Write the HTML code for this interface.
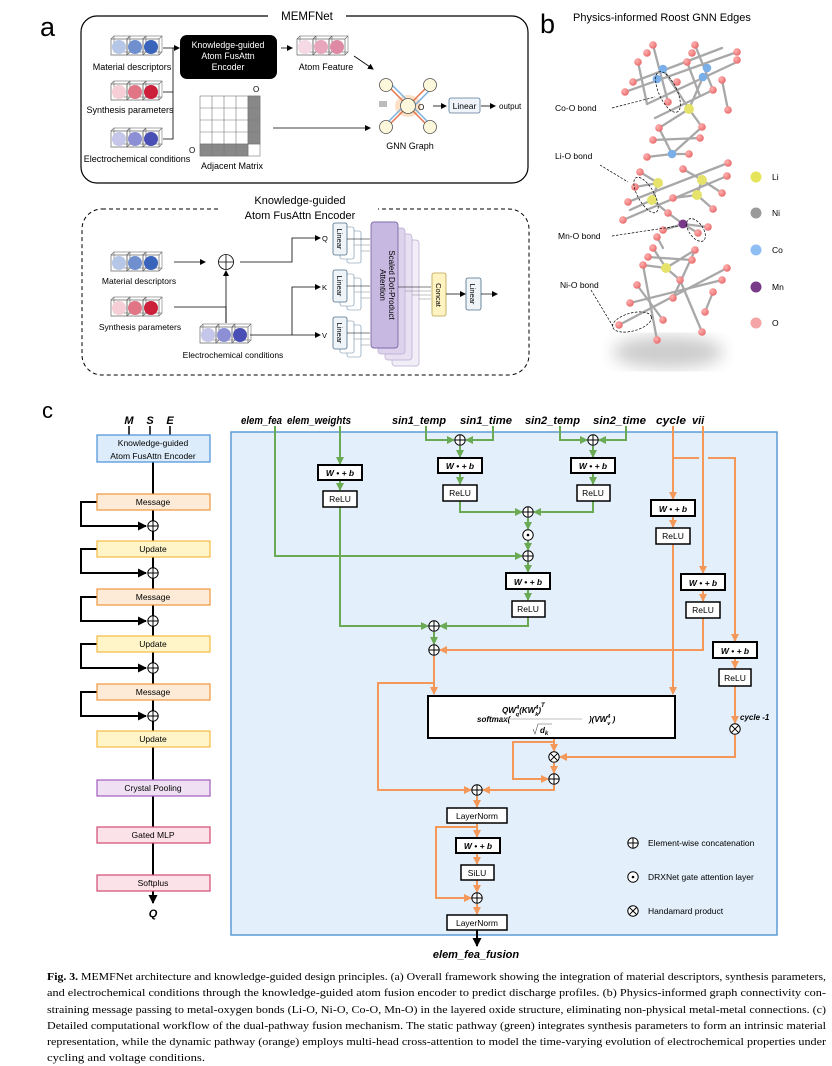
<!DOCTYPE html>
<html><head><meta charset="utf-8"><style>
html,body{margin:0;padding:0;background:#fff}
svg{display:block}
text{font-family:"Liberation Sans",Arial,sans-serif}
.bi{font-weight:bold;font-style:italic}
.cap text{font-family:"Liberation Serif",serif;font-size:10.6px}
</style></head><body>
<svg width="832" height="1066" viewBox="0 0 832 1066" xmlns="http://www.w3.org/2000/svg">
<defs>
<marker id="ab" markerWidth="6" markerHeight="6" refX="5" refY="3" orient="auto" markerUnits="userSpaceOnUse"><path d="M0,0 L6,3 L0,6 z" fill="#000"/></marker>
<marker id="ag" markerWidth="8" markerHeight="8" refX="7" refY="4" orient="auto" markerUnits="userSpaceOnUse"><path d="M0,0 L8,4 L0,8 z" fill="#6aaa55"/></marker>
<marker id="ao" markerWidth="8" markerHeight="8" refX="7" refY="4" orient="auto" markerUnits="userSpaceOnUse"><path d="M0,0 L8,4 L0,8 z" fill="#f4985a"/></marker>
<marker id="ak" markerWidth="9" markerHeight="9" refX="8" refY="4.5" orient="auto" markerUnits="userSpaceOnUse"><path d="M0,0 L9,4.5 L0,9 z" fill="#000"/></marker>
<symbol id="op" viewBox="-6 -6 12 12"><circle r="5.2" fill="#fff" stroke="#000" stroke-width="1"/><path d="M-5.2,0H5.2M0,-5.2V5.2" stroke="#000" stroke-width="1"/></symbol>
<symbol id="od" viewBox="-6 -6 12 12"><circle r="5.2" fill="#fff" stroke="#000" stroke-width="1"/><circle r="1.3" fill="#000"/></symbol>
<symbol id="ox" viewBox="-6 -6 12 12"><circle r="5.2" fill="#fff" stroke="#000" stroke-width="1"/><path d="M-3.7,-3.7L3.7,3.7M3.7,-3.7L-3.7,3.7" stroke="#000" stroke-width="1"/></symbol>
<g id="cube"><path d="M3,-3h16v16h-16z" fill="#fff" stroke="#888" stroke-width=".7"/><path d="M0,0h16v16h-16z M0,0 l3,-3 M16,0 l3,-3 M16,16 l3,-3" fill="none" stroke="#666" stroke-width=".7"/></g>
<radialGradient id="gO" cx=".35" cy=".35" r=".7"><stop offset="0" stop-color="#ffb0b0"/><stop offset="1" stop-color="#e86a6a"/></radialGradient>
<filter id="blur"><feGaussianBlur stdDeviation="8"/></filter>
</defs>

<!-- ================= Panel a ================= -->
<text x="40" y="36" font-size="27">a</text>
<rect x="81" y="16" width="447" height="167" rx="16" fill="none" stroke="#000" stroke-width="1.2"/>
<rect x="268" y="8" width="78" height="14" fill="#fff"/>
<text x="307" y="20" font-size="11.5" text-anchor="middle">MEMFNet</text>

<g transform="translate(111,39)">
<use href="#cube"/><circle cx="8" cy="8" r="7" fill="#b5c6e6"/>
<use href="#cube" x="16"/><circle cx="24" cy="8" r="7" fill="#6f8fcf"/>
<use href="#cube" x="32"/><circle cx="40" cy="8" r="7" fill="#3a64bb"/>
</g>
<text x="132" y="70" font-size="9" text-anchor="middle">Material descriptors</text>
<g transform="translate(111,84)">
<use href="#cube"/><circle cx="8" cy="8" r="7" fill="#f6cfd6"/>
<use href="#cube" x="16"/><circle cx="24" cy="8" r="7" fill="#e07585"/>
<use href="#cube" x="32"/><circle cx="40" cy="8" r="7" fill="#cc1f3a"/>
</g>
<text x="130" y="113" font-size="9" text-anchor="middle">Synthesis parameters</text>
<g transform="translate(111,131)">
<use href="#cube"/><circle cx="8" cy="8" r="7" fill="#c4c6ea"/>
<use href="#cube" x="16"/><circle cx="24" cy="8" r="7" fill="#8c8fd4"/>
<use href="#cube" x="32"/><circle cx="40" cy="8" r="7" fill="#4a4fb5"/>
</g>
<text x="137" y="162" font-size="9" text-anchor="middle">Electrochemical conditions</text>
<path d="M163,48H173V139H163 M163,92H173" fill="none" stroke="#000" stroke-width=".8"/>
<path d="M173,48H179" stroke="#000" stroke-width=".8" marker-end="url(#ab)"/>
<rect x="180" y="35" width="97" height="44" rx="7" fill="#000"/>
<text x="228" y="48" font-size="8.8" fill="#fff" text-anchor="middle">Knowledge-guided</text>
<text x="228" y="59" font-size="8.8" fill="#fff" text-anchor="middle">Atom FusAttn</text>
<text x="228" y="70" font-size="8.8" fill="#fff" text-anchor="middle">Encoder</text>
<path d="M281,48H292" stroke="#000" stroke-width=".8" marker-end="url(#ab)"/>
<g transform="translate(297,39)">
<use href="#cube"/><circle cx="8" cy="8" r="7" fill="#f5d9e4"/>
<use href="#cube" x="16"/><circle cx="24" cy="8" r="7" fill="#e8a6bd"/>
<use href="#cube" x="32"/><circle cx="40" cy="8" r="7" fill="#de8aa4"/>
</g>
<text x="326" y="70" font-size="9" text-anchor="middle">Atom Feature</text>
<path d="M354,56L373,69" stroke="#000" stroke-width=".8" marker-end="url(#ab)"/>
<g stroke="#777" stroke-width=".6">
<rect x="200" y="96" width="60" height="60" fill="#fff"/>
<rect x="248" y="96" width="12" height="48" fill="#888"/>
<rect x="200" y="144" width="48" height="12" fill="#888"/>
<path d="M212,96V156M224,96V156M236,96V156M248,96V156M200,108H260M200,120H260M200,132H260M200,144H260" fill="none"/>
</g>
<text x="253" y="92" font-size="8">O</text>
<text x="189" y="153" font-size="8">O</text>
<text x="232" y="169" font-size="9" text-anchor="middle">Adjacent Matrix</text>
<path d="M273,128H370" stroke="#000" stroke-width=".8" marker-end="url(#ab)"/>
<ellipse cx="408" cy="106" rx="13" ry="11" fill="#fbd9b8" opacity=".8"/>
<g stroke-width="1.5">
<path d="M387,85L408,106M429,85L408,106M387,127L408,106M429,127L408,106" stroke="#e8734a"/>
<path d="M390,83L411,104M432,88L411,109M385,125L406,104M431,125L410,104" stroke="#7ab0e0"/>
</g>
<g fill="#fdf8dc" stroke="#555" stroke-width=".8">
<circle cx="386" cy="85" r="6.5"/><circle cx="430" cy="85" r="6.5"/><circle cx="386" cy="127" r="6.5"/><circle cx="430" cy="127" r="6.5"/><circle cx="408" cy="106" r="7.5"/>
</g>
<rect x="379" y="101" width="8" height="6" fill="#bbb"/>
<text x="418" y="110" font-size="8">O</text>
<path d="M433,106H446" stroke="#000" stroke-width=".8" marker-end="url(#ab)"/>
<rect x="449" y="98" width="31" height="15" rx="2" fill="#eef4f9" stroke="#5b7a95" stroke-width=".8"/>
<text x="464.5" y="109" font-size="8.5" text-anchor="middle">Linear</text>
<path d="M481,106H495" stroke="#000" stroke-width=".8" marker-end="url(#ab)"/>
<text x="499" y="109" font-size="8">output</text>
<text x="410" y="149" font-size="9" text-anchor="middle">GNN Graph</text>

<!-- ================= Panel a2 ================= -->
<rect x="82" y="209" width="447" height="166" rx="20" fill="none" stroke="#000" stroke-width="1" stroke-dasharray="4,3"/>
<rect x="219" y="200" width="159" height="18" fill="#fff"/>
<text x="300" y="204" font-size="11" text-anchor="middle">Knowledge-guided</text>
<text x="300" y="219" font-size="11" text-anchor="middle">Atom FusAttn Encoder</text>
<g transform="translate(111,255)">
<use href="#cube"/><circle cx="8" cy="8" r="7" fill="#b5c6e6"/>
<use href="#cube" x="16"/><circle cx="24" cy="8" r="7" fill="#6f8fcf"/>
<use href="#cube" x="32"/><circle cx="40" cy="8" r="7" fill="#3a64bb"/>
</g>
<text x="139" y="284" font-size="8.5" text-anchor="middle">Material descriptors</text>
<g transform="translate(111,300)">
<use href="#cube"/><circle cx="8" cy="8" r="7" fill="#f6cfd6"/>
<use href="#cube" x="16"/><circle cx="24" cy="8" r="7" fill="#e07585"/>
<use href="#cube" x="32"/><circle cx="40" cy="8" r="7" fill="#cc1f3a"/>
</g>
<text x="140" y="330" font-size="8.5" text-anchor="middle">Synthesis parameters</text>
<g transform="translate(200,327)">
<use href="#cube"/><circle cx="8" cy="8" r="7" fill="#c4c6ea"/>
<use href="#cube" x="16"/><circle cx="24" cy="8" r="7" fill="#8c8fd4"/>
<use href="#cube" x="32"/><circle cx="40" cy="8" r="7" fill="#4a4fb5"/>
</g>
<text x="233" y="358" font-size="8.5" text-anchor="middle">Electrochemical conditions</text>
<path d="M174,262H205" stroke="#000" stroke-width=".8" marker-end="url(#ab)"/>
<circle cx="226" cy="262" r="7.5" fill="#fff" stroke="#000" stroke-width=".8"/>
<path d="M218.5,262H233.5M226,254.5V269.5" stroke="#000" stroke-width=".8"/>
<path d="M174,307H226V323" fill="none" stroke="#000" stroke-width=".8"/>
<path d="M226,323V271" stroke="#000" stroke-width=".8" marker-end="url(#ab)"/>
<path d="M240,262H292V238H320" fill="none" stroke="#000" stroke-width=".8" marker-end="url(#ab)"/>
<path d="M250,335H320" fill="none" stroke="#000" stroke-width=".8" marker-end="url(#ab)"/>
<path d="M292,335V287H320" fill="none" stroke="#000" stroke-width=".8" marker-end="url(#ab)"/>
<text x="322" y="241" font-size="7.5">Q</text>
<text x="322" y="290" font-size="7.5">K</text>
<text x="322" y="338" font-size="7.5">V</text>
<g fill="#fff" stroke="#6a8aa5" stroke-width=".6">
<rect x="347" y="231" width="14" height="32" rx="2"/><rect x="340" y="227" width="14" height="32" rx="2"/>
<rect x="347" y="278" width="14" height="32" rx="2"/><rect x="340" y="274" width="14" height="32" rx="2"/>
<rect x="347" y="325" width="14" height="32" rx="2"/><rect x="340" y="321" width="14" height="32" rx="2"/>
</g>
<g fill="#eef4f8" stroke="#4d6d88" stroke-width=".8">
<rect x="333" y="223" width="14" height="32" rx="2"/>
<rect x="333" y="270" width="14" height="32" rx="2"/>
<rect x="333" y="317" width="14" height="32" rx="2"/>
</g>
<g font-size="7.5" text-anchor="middle">
<text transform="translate(337,239) rotate(90)">Linear</text>
<text transform="translate(337,286) rotate(90)">Linear</text>
<text transform="translate(337,333) rotate(90)">Linear</text>
</g>
<g stroke="#000" stroke-width=".6">
<path d="M347,239H370M347,286H370M347,333H370"/>
<path d="M354,245H370M361,251H370M354,292H370M361,298H370M354,339H370M361,345H370" stroke="#888"/>
</g>
<g stroke="#b7abd0" stroke-width=".7">
<rect x="392" y="240" width="27" height="126" rx="3" fill="#f2eef8"/>
<rect x="385" y="234" width="27" height="126" rx="3" fill="#e8e1f2"/>
<rect x="378" y="228" width="27" height="126" rx="3" fill="#ddd3ec"/>
</g>
<rect x="371" y="222" width="27" height="126" rx="3" fill="#c6b8e0" stroke="#7c6aa8" stroke-width=".9"/>
<text transform="translate(389,285) rotate(90)" font-size="8" text-anchor="middle">Scaled Dot-Product</text>
<text transform="translate(380,285) rotate(90)" font-size="8" text-anchor="middle">Attention</text>
<g stroke="#000" stroke-width=".6">
<path d="M398,287H431"/><path d="M405,291H431M412,295H431M419,299H431" stroke="#888"/>
</g>
<rect x="432" y="273" width="14" height="43" rx="2" fill="#fff3c2" stroke="#b8a04f" stroke-width=".8"/>
<text transform="translate(436,295) rotate(90)" font-size="7.5" text-anchor="middle">Concat</text>
<path d="M446,294H465" stroke="#000" stroke-width=".7" marker-end="url(#ab)"/>
<rect x="466" y="278" width="15" height="32" rx="2" fill="#eef4f8" stroke="#4d6d88" stroke-width=".8"/>
<text transform="translate(470,294) rotate(90)" font-size="7.5" text-anchor="middle">Linear</text>
<path d="M481,294H497" stroke="#000" stroke-width=".7" marker-end="url(#ab)"/>

<!-- ================= Panel b ================= -->
<text x="540" y="33" font-size="27">b</text>
<text x="573" y="21" font-size="11">Physics-informed Roost GNN Edges</text>
<ellipse cx="668" cy="352" rx="55" ry="16" fill="#ccc" filter="url(#blur)"/>
<g stroke="#a8a8a8" stroke-width="2.3" stroke-linecap="round" fill="none">
<path d="M625,92L737,52M633,82L722,48M647,104L737,62M655,118L713,90"/>
<path d="M653,45L668,102M695,45L713,90M638,62L647,104M687,62L700,96M722,80L728,110"/>
<path d="M663,69L689,109M703,77L689,109M689,109L659,128M689,109L702,127"/>
<path d="M659,128L672,154M672,154L702,127M653,140L700,138M672,154L647,157M672,154L689,154"/>
<path d="M628,202L728,163M623,220L727,176M640,172L658,183M658,183L652,200M652,200L668,213M683,169L702,180M702,180L697,195M697,195L713,209"/>
<path d="M635,187L658,183M702,180L722,193M652,200L630,210M697,195L673,198"/>
<path d="M683,224L663,230M683,224L708,227M683,224L698,233M683,224L668,213M657,237L663,248"/>
<path d="M653,248L666,268M666,268L695,250M648,257L692,260M666,268L643,265M666,268L680,280"/>
<path d="M619,325L727,268M630,303L722,280M637,285L663,320M680,280L702,332M643,265L657,340M705,312L713,292M673,298L695,250"/>
</g>
<g fill="url(#gO)">
<circle cx="653" cy="45" r="3.8"/><circle cx="695" cy="45" r="3.8"/><circle cx="647" cy="53" r="3.8"/><circle cx="692" cy="53" r="3.8"/><circle cx="737" cy="52" r="3.8"/><circle cx="737" cy="60" r="3.8"/><circle cx="638" cy="62" r="3.8"/><circle cx="687" cy="62" r="3.8"/><circle cx="633" cy="82" r="3.8"/><circle cx="677" cy="82" r="3.8"/><circle cx="722" cy="80" r="3.8"/><circle cx="625" cy="92" r="3.8"/><circle cx="668" cy="102" r="3.8"/><circle cx="713" cy="90" r="3.8"/><circle cx="728" cy="110" r="3.8"/>
<circle cx="659" cy="128" r="3.8"/><circle cx="702" cy="127" r="3.8"/><circle cx="653" cy="140" r="3.8"/><circle cx="700" cy="138" r="3.8"/><circle cx="647" cy="157" r="3.8"/><circle cx="689" cy="154" r="3.8"/><circle cx="728" cy="163" r="3.8"/><circle cx="640" cy="172" r="3.8"/><circle cx="683" cy="169" r="3.8"/><circle cx="727" cy="176" r="3.8"/><circle cx="635" cy="187" r="3.8"/><circle cx="628" cy="202" r="3.8"/><circle cx="623" cy="220" r="3.8"/><circle cx="668" cy="213" r="3.8"/><circle cx="713" cy="209" r="3.8"/><circle cx="722" cy="193" r="3.8"/><circle cx="673" cy="198" r="3.8"/><circle cx="708" cy="227" r="3.8"/><circle cx="663" cy="230" r="3.8"/><circle cx="657" cy="237" r="3.8"/><circle cx="698" cy="233" r="3.8"/>
<circle cx="653" cy="248" r="3.8"/><circle cx="695" cy="250" r="3.8"/><circle cx="648" cy="257" r="3.8"/><circle cx="692" cy="260" r="3.8"/><circle cx="643" cy="265" r="3.8"/><circle cx="727" cy="268" r="3.8"/><circle cx="637" cy="285" r="3.8"/><circle cx="680" cy="280" r="3.8"/><circle cx="722" cy="280" r="3.8"/><circle cx="630" cy="303" r="3.8"/><circle cx="673" cy="298" r="3.8"/><circle cx="713" cy="292" r="3.8"/><circle cx="619" cy="325" r="3.8"/><circle cx="663" cy="320" r="3.8"/><circle cx="705" cy="312" r="3.8"/><circle cx="657" cy="340" r="3.8"/><circle cx="702" cy="332" r="3.8"/>
</g>
<g fill="#79aee8"><circle cx="663" cy="69" r="4.3"/><circle cx="657" cy="79" r="4.3"/><circle cx="707" cy="68" r="4.3"/><circle cx="703" cy="77" r="4.3"/><circle cx="672" cy="154" r="4.3"/></g>
<g fill="#e5e36a"><circle cx="689" cy="109" r="5"/><circle cx="658" cy="183" r="5"/><circle cx="702" cy="180" r="5"/><circle cx="652" cy="200" r="5"/><circle cx="697" cy="195" r="5"/><circle cx="666" cy="268" r="5"/></g>
<circle cx="683" cy="224" r="4.5" fill="#7a3a8a"/>
<g fill="none" stroke="#000" stroke-width=".7" stroke-dasharray="2.5,1.5">
<ellipse cx="668" cy="92" rx="9" ry="22" transform="rotate(-25 668 92)"/>
<ellipse cx="646" cy="195" rx="8" ry="20" transform="rotate(-30 646 195)"/>
<ellipse cx="696" cy="230" rx="7" ry="13" transform="rotate(-35 696 230)"/>
<ellipse cx="632" cy="322" rx="20" ry="9" transform="rotate(-15 632 322)"/>
<path d="M612,108L655,97M600,165L628,182M612,236L678,226M591,290L614,328"/>
</g>
<g font-size="8.5">
<text x="555" y="111">Co-O bond</text><text x="555" y="159">Li-O bond</text><text x="558" y="239">Mn-O bond</text><text x="560" y="288">Ni-O bond</text>
</g>
<circle cx="756" cy="177" r="5.5" fill="#e6e45a"/><text x="772" y="180" font-size="8.5">Li</text>
<circle cx="756" cy="213" r="5.5" fill="#9a9a9a"/><text x="772" y="216" font-size="8.5">Ni</text>
<circle cx="756" cy="250" r="5.5" fill="#8fbef5"/><text x="772" y="253" font-size="8.5">Co</text>
<circle cx="756" cy="287" r="5.5" fill="#7a3a8a"/><text x="772" y="290" font-size="8.5">Mn</text>
<circle cx="756" cy="323" r="5.5" fill="#f4a4a4"/><text x="772" y="326" font-size="8.5">O</text>

<!-- ================= Panel c left ================= -->
<text x="42" y="418" font-size="22">c</text>
<g class="bi" font-size="11" text-anchor="middle"><text x="129" y="424">M</text><text x="150" y="424">S</text><text x="170" y="424">E</text></g>
<path d="M129,426V435M150,426V435M170,426V435" stroke="#000" stroke-width="1.5"/>
<path d="M153,462V903" stroke="#000" stroke-width="2" marker-end="url(#ak)"/>
<rect x="97" y="435" width="113" height="27" fill="#dcecfa" stroke="#4a90d9" stroke-width="1.2"/>
<text x="153" y="446" font-size="8.5" text-anchor="middle">Knowledge-guided</text>
<text x="153" y="459" font-size="8.5" text-anchor="middle">Atom FusAttn Encoder</text>
<g stroke="#000" stroke-width="2" fill="none">
<path d="M97,502H81V526H146" marker-end="url(#ak)"/>
<path d="M97,549H81V573H146" marker-end="url(#ak)"/>
<path d="M97,597H81V621H146" marker-end="url(#ak)"/>
<path d="M97,644H81V668H146" marker-end="url(#ak)"/>
<path d="M97,692H81V716H146" marker-end="url(#ak)"/>
</g>
<g stroke-width="1.2" font-size="8.5">
<rect x="97" y="494" width="113" height="16" fill="#fdebd8" stroke="#f0963c"/>
<rect x="97" y="541" width="113" height="16" fill="#fff5c8" stroke="#f5b942"/>
<rect x="97" y="589" width="113" height="16" fill="#fdebd8" stroke="#f0963c"/>
<rect x="97" y="636" width="113" height="16" fill="#fff5c8" stroke="#f5b942"/>
<rect x="97" y="684" width="113" height="16" fill="#fdebd8" stroke="#f0963c"/>
<rect x="97" y="731" width="113" height="16" fill="#fff5c8" stroke="#f5b942"/>
<rect x="97" y="780" width="113" height="16" fill="#efe0f3" stroke="#a25bbf"/>
<rect x="97" y="827" width="113" height="16" fill="#fbe1e8" stroke="#d24a72"/>
<rect x="97" y="875" width="113" height="16" fill="#fbe1e8" stroke="#d24a72"/>
</g>
<g font-size="8.5" text-anchor="middle">
<text x="153" y="505">Message</text><text x="153" y="552">Update</text><text x="153" y="600">Message</text><text x="153" y="647">Update</text><text x="153" y="695">Message</text><text x="153" y="742">Update</text><text x="153" y="791">Crystal Pooling</text><text x="153" y="838">Gated MLP</text><text x="153" y="886">Softplus</text>
</g>
<use href="#op" x="147" y="520" width="12" height="12"/>
<use href="#op" x="147" y="567" width="12" height="12"/>
<use href="#op" x="147" y="615" width="12" height="12"/>
<use href="#op" x="147" y="662" width="12" height="12"/>
<use href="#op" x="147" y="710" width="12" height="12"/>
<text x="153" y="917" class="bi" font-size="11" text-anchor="middle">Q</text>

<!-- ================= Panel c main ================= -->
<rect x="231" y="432" width="546" height="503" fill="#e3f0fb" stroke="#5b9bd5" stroke-width="1.5"/>
<g class="bi" font-size="11">
<text x="241" y="424" textLength="41" lengthAdjust="spacingAndGlyphs">elem_fea</text><text x="287" y="424" textLength="64" lengthAdjust="spacingAndGlyphs">elem_weights</text><text x="392" y="424" textLength="54" lengthAdjust="spacingAndGlyphs">sin1_temp</text><text x="460" y="424" textLength="52" lengthAdjust="spacingAndGlyphs">sin1_time</text><text x="525" y="424" textLength="55" lengthAdjust="spacingAndGlyphs">sin2_temp</text><text x="593" y="424" textLength="53" lengthAdjust="spacingAndGlyphs">sin2_time</text><text x="656" y="424" textLength="30" lengthAdjust="spacingAndGlyphs">cycle</text><text x="692" y="424">vii</text>
</g>
<g fill="none" stroke="#6aaa55" stroke-width="2" marker-end="url(#ag)">
<path d="M275,426V556H522"/>
<path d="M340,426V464"/>
<path d="M340,480V490"/>
<path d="M340,507V626H428"/>
<path d="M426,426V440H454"/>
<path d="M493,426V440H466"/>
<path d="M460,446V457"/>
<path d="M460,473V484"/>
<path d="M460,501V512H522"/>
<path d="M560,426V440H587"/>
<path d="M626,426V440H599"/>
<path d="M593,446V457"/>
<path d="M593,473V484"/>
<path d="M593,501V512H534"/>
<path d="M528,518V529"/>
<path d="M528,541V550"/>
<path d="M528,562V572"/>
<path d="M528,589V600"/>
<path d="M528,617V626H440"/>
<path d="M434,632V644"/>
</g>
<g fill="none" stroke="#f4985a" stroke-width="2">
<path d="M673,426V499" marker-end="url(#ao)"/>
<path d="M673,458H699M708,458H735V641" marker-end="url(#ao)"/>
<path d="M673,516V527" marker-end="url(#ao)"/>
<path d="M673,544V694" marker-end="url(#ao)"/>
<path d="M703,426V573" marker-end="url(#ao)"/>
<path d="M703,590V601" marker-end="url(#ao)"/>
<path d="M703,618V650H440" marker-end="url(#ao)"/>
<path d="M735,658V668" marker-end="url(#ao)"/>
<path d="M735,686V723" marker-end="url(#ao)"/>
<path d="M434,656V694" marker-end="url(#ao)"/>
<path d="M434,683H378V790H471" marker-end="url(#ao)"/>
<path d="M554,738V751" marker-end="url(#ao)"/>
<path d="M554,742H513V779H548" marker-end="url(#ao)"/>
<path d="M735,735V757H560" marker-end="url(#ao)"/>
<path d="M554,763V773" marker-end="url(#ao)"/>
<path d="M554,785V790H483" marker-end="url(#ao)"/>
<path d="M477,796V807" marker-end="url(#ao)"/>
<path d="M477,823V837" marker-end="url(#ao)"/>
<path d="M477,827H436V898H471" marker-end="url(#ao)"/>
<path d="M477,853V864" marker-end="url(#ao)"/>
<path d="M477,880V892" marker-end="url(#ao)"/>
<path d="M477,904V914" marker-end="url(#ao)"/>
</g>
<path d="M477,930V946" stroke="#000" stroke-width="2" marker-end="url(#ak)"/>
<g fill="#fff" stroke="#000">
<g stroke-width="2">
<rect x="318" y="465" width="44" height="15"/><rect x="438" y="458" width="44" height="15"/><rect x="571" y="458" width="44" height="15"/><rect x="506" y="573" width="44" height="16"/><rect x="651" y="500" width="44" height="16"/><rect x="681" y="574" width="44" height="16"/><rect x="713" y="642" width="44" height="16"/><rect x="456" y="838" width="44" height="15"/>
</g>
<g stroke-width="1.5">
<rect x="323" y="491" width="34" height="16"/><rect x="443" y="485" width="34" height="16"/><rect x="577" y="485" width="33" height="16"/><rect x="512" y="601" width="33" height="16"/><rect x="656" y="528" width="34" height="16"/><rect x="686" y="602" width="34" height="16"/><rect x="719" y="669" width="32" height="17"/><rect x="461" y="865" width="33" height="15"/>
<rect x="447" y="808" width="60" height="15"/><rect x="447" y="915" width="60" height="15"/>
</g>
<rect x="428" y="696" width="247" height="42" stroke-width="2"/>
</g>
<g class="bi" font-size="8.5" text-anchor="middle">
<text x="340" y="476">W • + b</text><text x="460" y="469">W • + b</text><text x="593" y="469">W • + b</text><text x="528" y="585">W • + b</text><text x="673" y="512">W • + b</text><text x="703" y="586">W • + b</text><text x="735" y="654">W • + b</text><text x="478" y="849">W • + b</text>
</g>
<g font-size="8.5" text-anchor="middle">
<text x="340" y="502">ReLU</text><text x="460" y="496">ReLU</text><text x="593" y="496">ReLU</text><text x="528" y="612">ReLU</text><text x="673" y="539">ReLU</text><text x="703" y="613">ReLU</text><text x="735" y="681">ReLU</text><text x="477" y="876">SiLU</text><text x="477" y="819">LayerNorm</text><text x="477" y="926">LayerNorm</text>
</g>
<use href="#op" x="454" y="434" width="12" height="12"/>
<use href="#op" x="587" y="434" width="12" height="12"/>
<use href="#op" x="522" y="506" width="12" height="12"/>
<use href="#od" x="522" y="529" width="12" height="12"/>
<use href="#op" x="522" y="550" width="12" height="12"/>
<use href="#op" x="428" y="620" width="12" height="12"/>
<use href="#op" x="428" y="644" width="12" height="12"/>
<use href="#ox" x="729" y="723" width="12" height="12"/>
<use href="#ox" x="548" y="751" width="12" height="12"/>
<use href="#op" x="548" y="773" width="12" height="12"/>
<use href="#op" x="471" y="784" width="12" height="12"/>
<use href="#op" x="471" y="892" width="12" height="12"/>
<text x="740" y="720" class="bi" font-size="8">cycle -1</text>
<g class="bi" font-size="8">
<text x="477" y="722">softmax(</text>
<text x="502" y="713">QW<tspan font-size="5.5" dy="3">q</tspan><tspan font-size="5.5" dx="-3" dy="-7">4</tspan><tspan dy="4">(KW</tspan><tspan font-size="5.5" dy="3">k</tspan><tspan font-size="5.5" dx="-3" dy="-7">4</tspan><tspan dy="4">)</tspan><tspan font-size="6" dy="-6">T</tspan></text>
<text x="540" y="733">d<tspan font-size="6" dy="2">k</tspan></text>
<text x="589" y="722">)(VW<tspan font-size="5.5" dy="3">v</tspan><tspan font-size="5.5" dx="-3" dy="-7">4</tspan><tspan dy="4"> )</tspan></text>
</g>
<path d="M500,719H582" stroke="#aaa" stroke-width=".7"/>
<path d="M533,729L535,734L538,724H552" fill="none" stroke="#555" stroke-width=".6"/>
<use href="#op" x="627" y="837" width="12" height="12"/><text x="648" y="846" font-size="8.5">Element-wise concatenation</text>
<use href="#od" x="627" y="871" width="12" height="12"/><text x="648" y="880" font-size="8.5">DRXNet gate attention layer</text>
<use href="#ox" x="627" y="905" width="12" height="12"/><text x="648" y="914" font-size="8.5">Handamard product</text>
<text x="476" y="958" class="bi" font-size="11" text-anchor="middle">elem_fea_fusion</text>

<!-- ================= Caption ================= -->
<g class="cap">
<text x="47" y="980" textLength="779" lengthAdjust="spacingAndGlyphs"><tspan font-weight="bold">Fig. 3.</tspan>  MEMFNet architecture and knowledge-guided design principles. (a) Overall framework showing the integration of material descriptors, synthesis parameters,</text>
<text x="47" y="996" textLength="779" lengthAdjust="spacingAndGlyphs">and electrochemical conditions through the knowledge-guided atom fusion encoder to predict discharge profiles. (b) Physics-informed graph connectivity con-</text>
<text x="47" y="1013" textLength="779" lengthAdjust="spacingAndGlyphs">straining message passing to metal-oxygen bonds (Li-O, Ni-O, Co-O, Mn-O) in the layered oxide structure, eliminating non-physical metal-metal connections. (c)</text>
<text x="47" y="1029" textLength="779" lengthAdjust="spacingAndGlyphs">Detailed computational workflow of the dual-pathway fusion mechanism. The static pathway (green) integrates synthesis parameters to form an intrinsic material</text>
<text x="47" y="1045" textLength="779" lengthAdjust="spacingAndGlyphs">representation, while the dynamic pathway (orange) employs multi-head cross-attention to model the time-varying evolution of electrochemical properties under</text>
<text x="47" y="1061" textLength="158" lengthAdjust="spacingAndGlyphs">cycling and voltage conditions.</text>
</g>
</svg>
</body></html>
